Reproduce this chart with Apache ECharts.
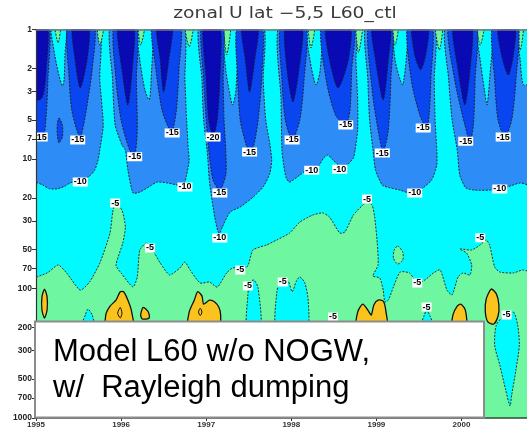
<!DOCTYPE html>
<html>
<head>
<meta charset="utf-8">
<script src="https://cdn.jsdelivr.net/npm/echarts@6/dist/echarts.min.js"></script>
<style>html,body{margin:0;padding:0;background:#fff}#c{width:527px;height:437px}</style>
</head>
<body>
<div id="c"></div>
<script>
// Axes: time in decimal years, pressure in hPa (log, inverted)
const yearTicks = [1995, 1996, 1997, 1998, 1999, 2000];
const pressureTicks = [1, 2, 3, 5, 7, 10, 20, 30, 50, 70, 100, 200, 300, 500, 700, 1000];
const timeRange = [1995, 2000.77];
const pressureRange = [1, 1000];
const timeEnd = 2000.85;

// -5 m/s contour: boundary between the -10..-5 band above and -5..0 below
const minus5Line = [
  [1995.00,81.5],[1995.13,75.9],[1995.26,65.8],[1995.36,75.9],[1995.52,103],[1995.63,89],[1995.75,63.6],
  [1995.87,37.3],[1995.90,26.1],[1995.93,21.9],[1996.01,24.8],[1996.05,33.5],[1996.02,44.5],[1995.94,66],
  [1996.00,76],[1996.14,97.4],[1996.19,81.5],[1996.22,50.4],[1996.30,44.5],[1996.37,50.4],[1996.46,63.6],
  [1996.57,78.6],[1996.69,69.5],[1996.75,62.4],[1996.81,71.9],[1996.93,90.7],[1997.04,89.1],[1997.13,97.4],
  [1997.24,75.9],[1997.31,69.5],[1997.48,68.2],[1997.55,50.4],[1997.71,46.1],[1997.83,42.2],[1997.98,37.3],
  [1998.10,30.7],[1998.25,27.1],[1998.37,26.1],[1998.45,28.1],[1998.57,37.3],[1998.63,36.6],[1998.73,27.1],
  [1998.84,22.7],[1998.89,21.5],[1998.95,22.7],[1998.98,28.1],[1999.01,44.5],[1999.02,65.8],[1998.96,80],
  [1999.04,83],[1999.08,103],[1999.10,127],[1999.14,123],[1999.20,97.4],[1999.28,74.6],[1999.39,76],
  [1999.48,90.7],[1999.57,86],[1999.67,75.9],[1999.75,71.9],[1999.83,103],[1999.89,112],[1999.96,81.5],
  [2000.02,75.9],[2000.10,78.6],[2000.12,65.8],[2000.06,53.2],[1999.98,49.5],[2000.12,50.4],[2000.22,46.1],
  [2000.29,42.2],[2000.33,46.1],[2000.39,68.2],[2000.45,74.6],[2000.61,75.9],[2000.72,71.9],[2000.85,74.6]
];

// -10..-5 pockets inside the -5..0 band
const cyanPatches = [
  [[1997.51,90.7],[1997.56,85.9],[1997.61,99],[1997.64,209],[1997.48,209],[1997.49,112]],
  [[1997.83,209],[1997.83,106],[1997.87,89.1],[1997.91,83],[1997.97,89.1],[1998.01,106],[1998.06,87.5],[1998.10,81.5],[1998.16,90.7],[1998.20,127],[1998.18,209]],
  [[1998.45,209],[1998.49,163],[1998.54,209]],
  [[1999.51,209],[1999.56,163],[1999.59,147],[1999.63,163],[1999.68,209]],
  [[1995.52,209],[1995.58,160],[1995.61,144],[1995.66,160],[1995.69,209]],
  [[2000.61,152],[2000.66,191],[2000.68,273],[2000.64,426],[2000.59,664],[2000.57,808],[2000.52,608],[2000.45,390],[2000.39,273],[2000.41,191],[2000.51,160]]
];

// -5..0 island inside the -10..-5 band
const greenIslands = [
  [[1999.25,47.0],[1999.31,52.3],[1999.31,60.3],[1999.25,64.7],[1999.20,58.2],[1999.21,50.4]]
];

// 0..5 westerly cells
const warmCells = [
  [[1995.10,101],[1995.13,116],[1995.13,147],[1995.10,169],[1995.07,147],[1995.07,116]],
  [[1995.83,209],[1995.82,160],[1995.87,137],[1995.94,123],[1995.99,106],[1996.03,106],[1996.08,123],[1996.12,147],[1996.14,209]],
  [[1996.23,160],[1996.26,140],[1996.32,152],[1996.33,169],[1996.25,172]],
  [[1996.79,209],[1996.80,152],[1996.86,123],[1996.90,106],[1996.95,114],[1996.97,132],[1997.04,123],[1997.10,127],[1997.15,140],[1997.17,160],[1997.15,209]],
  [[1998.77,209],[1998.78,152],[1998.84,132],[1998.90,147],[1998.94,160],[1998.97,134],[1999.02,123],[1999.08,125],[1999.11,147],[1999.12,209]],
  [[1999.89,209],[1999.90,160],[1999.95,137],[1999.99,132],[2000.04,144],[2000.06,169],[2000.06,209]],
  [[2000.35,101],[2000.41,110],[2000.44,134],[2000.43,163],[2000.38,188],[2000.31,181],[2000.28,152],[2000.29,121]]
];
const warmInner = [
  [[1995.99,140],[1996.01,155],[1995.99,169],[1995.96,155]],
  [[1996.93,142],[1996.95,152],[1996.93,162],[1996.91,152]]
];

// -15..-10 regions bounded by the -10 contour
const band10Regions = [
  [[1995.00,1],[1995.73,1],[1995.75,2.45],[1995.79,5.46],[1995.75,8.52],[1995.73,10.2],[1995.69,12.2],[1995.63,13.5],[1995.55,14.5],[1995.40,15.3],[1995.34,16.2],[1995.25,17.0],[1995.16,17.0],[1995.08,15.9],[1995.00,14.0]],
  [[1995.89,1],[1996.72,1],[1996.75,2.45],[1996.77,5.0],[1996.79,8.52],[1996.80,10.2],[1996.77,13.3],[1996.73,16.2],[1996.66,15.9],[1996.54,15.3],[1996.42,15.1],[1996.34,16.2],[1996.22,18.0],[1996.14,18.3],[1996.08,12.2],[1996.05,8.52],[1996.01,7.79],[1995.93,5.46],[1995.90,2.45]],
  [[1996.93,1],[1997.66,1],[1997.67,2.45],[1997.70,5.0],[1997.75,7.79],[1997.77,10.2],[1997.75,12.8],[1997.67,16.4],[1997.55,19.7],[1997.40,23.5],[1997.28,25.7],[1997.19,33.5],[1997.16,37.3],[1997.14,36.6],[1997.10,28.1],[1997.04,15.3],[1997.02,10.2],[1997.01,8.52],[1996.97,5.0],[1996.95,2.45]],
  [[1997.87,1],[1998.75,1],[1998.76,1.72],[1998.78,3.5],[1998.78,5.97],[1998.75,8.52],[1998.73,9.82],[1998.63,11.5],[1998.57,11.3],[1998.49,10.2],[1998.43,9.31],[1998.38,9.82],[1998.31,11.5],[1998.22,11.7],[1998.10,13.3],[1997.98,15.1],[1997.94,14.0],[1997.91,11.1],[1997.89,8.52],[1997.88,3.5]],
  [[1998.89,1],[1999.67,1],[1999.68,2.45],[1999.69,5.0],[1999.71,8.52],[1999.71,11.1],[1999.65,14.5],[1999.51,17.4],[1999.39,18.3],[1999.28,17.4],[1999.16,16.7],[1999.07,15.9],[1998.99,12.2],[1998.96,8.52],[1998.92,5.0],[1998.90,2.45]],
  [[1999.83,1],[2000.85,1],[2000.85,15.9],[2000.69,15.3],[2000.57,16.2],[2000.45,17.0],[2000.33,17.4],[2000.16,17.4],[2000.05,16.7],[1999.98,13.3],[1999.95,8.52],[1999.89,5.0],[1999.85,2.45]]
];

// -10..-5 tongues descending from the top
const cyanTongues = [
  [[1995.18,1],[1995.22,1.57],[1995.27,2.25],[1995.31,2.73],[1995.33,2.45],[1995.34,1.57],[1995.35,1]],
  [[1996.19,1],[1996.22,1.72],[1996.28,2.93],[1996.33,3.5],[1996.35,2.68],[1996.36,1]],
  [[1997.20,1],[1997.23,2.05],[1997.28,3.2],[1997.31,3.83],[1997.35,2.93],[1997.36,1]],
  [[1998.18,1],[1998.22,1.72],[1998.29,2.68],[1998.34,2.05],[1998.35,1]],
  [[1999.20,1],[1999.22,1.72],[1999.28,2.45],[1999.31,2.68],[1999.35,1.72],[1999.36,1]],
  [[2000.18,1],[2000.22,1.72],[2000.27,2.93],[2000.30,3.83],[2000.33,2.45],[2000.36,1]],
  [[2000.66,1],[2000.69,1.72],[2000.73,2.68],[2000.85,2.45],[2000.85,1]]
];

// -5..0 tips at 1 hPa
const greenTips = [
  [[1995.22,1],[1995.26,1.27],[1995.29,1]],
  [[1995.72,1],[1995.75,1.32],[1995.80,1]],
  [[1996.20,1],[1996.23,1.32],[1996.28,1]],
  [[1996.75,1],[1996.80,1.36],[1996.85,1]],
  [[1997.21,1],[1997.24,1.57],[1997.29,1]],
  [[1998.20,1],[1998.23,1.39],[1998.28,1]],
  [[1998.76,1],[1998.79,1.5],[1998.84,1]],
  [[1999.18,1],[1999.22,1.32],[1999.26,1]],
  [[1999.69,1],[1999.74,1.44],[1999.78,1]],
  [[2000.18,1],[2000.22,1.32],[2000.27,1]],
  [[2000.65,1],[2000.69,1.44],[2000.73,1]]
];

// -20..-15 tongues
const band15Tongues = [
  [[1995.00,1],[1995.15,1],[1995.14,2.45],[1995.12,4.57],[1995.08,6.77],[1995.00,6.3]],
  [[1995.27,4.82],[1995.31,5.46],[1995.31,6.77],[1995.27,7.5],[1995.25,6.5],[1995.25,5.4]],
  [[1995.38,1],[1995.68,1],[1995.66,2.05],[1995.61,3.5],[1995.56,5.46],[1995.52,6.77],[1995.48,5.97],[1995.42,4.18],[1995.39,2.45]],
  [[1995.92,1],[1996.18,1],[1996.18,2.45],[1996.19,5.97],[1996.16,9.31],[1996.10,8.52],[1996.00,5.0],[1995.94,2.45]],
  [[1996.37,1],[1996.69,1],[1996.68,2.05],[1996.65,4.18],[1996.60,6.19],[1996.56,5.76],[1996.48,4.18],[1996.41,2.05]],
  [[1996.95,1],[1997.19,1],[1997.20,2.45],[1997.21,5.0],[1997.23,8.52],[1997.23,13.3],[1997.16,17.4],[1997.08,14.5],[1997.03,8.52],[1997.00,5.0],[1996.97,2.45]],
  [[1997.37,1],[1997.65,1],[1997.65,2.45],[1997.61,5.0],[1997.56,7.79],[1997.51,8.84],[1997.47,7.79],[1997.40,5.0],[1997.37,2.45]],
  [[1997.88,1],[1998.17,1],[1998.15,2.45],[1998.10,5.0],[1998.01,7.13],[1997.93,5.0],[1997.89,2.45]],
  [[1998.36,1],[1998.73,1],[1998.71,2.05],[1998.69,4.18],[1998.64,5.46],[1998.52,4.57],[1998.41,2.45]],
  [[1998.91,1],[1999.18,1],[1999.17,2.45],[1999.14,5.97],[1999.08,8.84],[1999.02,5.97],[1998.95,2.93]],
  [[1999.37,1],[1999.65,1],[1999.64,2.45],[1999.62,4.57],[1999.59,5.76],[1999.51,4.57],[1999.41,2.45]],
  [[1999.85,1],[2000.17,1],[2000.16,2.45],[2000.14,5.46],[2000.10,7.4],[2000.04,5.46],[1999.92,2.45]],
  [[2000.37,1],[2000.66,1],[2000.64,2.45],[2000.59,5.0],[2000.51,6.77],[2000.43,5.0],[2000.39,2.45]]
];

// below -20 cores
const band20Cores = [
  [[1995.00,1],[1995.13,1],[1995.12,2.05],[1995.07,3.38],[1995.00,3.5]],
  [[1995.43,1],[1995.62,1],[1995.60,1.72],[1995.52,2.83],[1995.46,1.72]],
  [[1995.96,1],[1996.15,1],[1996.13,2.05],[1996.08,3.83],[1996.01,2.05]],
  [[1996.42,1],[1996.60,1],[1996.56,1.72],[1996.50,3.04],[1996.46,1.72]],
  [[1996.97,1],[1997.16,1],[1997.16,2.45],[1997.13,5.0],[1997.08,6.77],[1997.03,5.0],[1997.00,2.45]],
  [[1997.42,1],[1997.61,1],[1997.57,1.72],[1997.51,3.04],[1997.46,1.72]],
  [[1997.93,1],[1998.13,1],[1998.09,2.05],[1998.02,3.63],[1997.95,2.05]],
  [[1998.41,1],[1998.69,1],[1998.67,1.72],[1998.55,2.83],[1998.45,1.72]],
  [[1998.95,1],[1999.16,1],[1999.14,1.72],[1999.08,3.5],[1998.99,1.72]],
  [[1999.42,1],[1999.61,1],[1999.58,1.57],[1999.52,2.05],[1999.45,1.57]],
  [[1999.90,1],[2000.12,1],[2000.10,2.05],[2000.04,3.83],[1999.96,2.05]],
  [[2000.43,1],[2000.63,1],[2000.61,1.57],[2000.55,2.25],[2000.47,1.57]]
];

// contour labels: [year, hPa, text]
const contourLabels = [
  [1995.05,6.77,'-15'],[1995.49,7.13,'-15'],[1996.60,6.3,'-15'],[1997.08,6.77,'-20'],[1997.51,8.84,'-15'],
  [1998.01,7.13,'-15'],[1998.64,5.46,'-15'],[1999.55,5.76,'-15'],[2000.05,7.3,'-15'],[2000.49,6.77,'-15'],
  [1996.16,9.6,'-15'],[1999.07,9.0,'-15'],[1997.16,18.3,'-15'],
  [1995.52,15.05,'-10'],[1996.75,16.45,'-10'],[1998.24,12.2,'-10'],[1998.57,12.0,'-10'],[1999.45,18.3,'-10'],
  [2000.45,17.05,'-10'],[1997.16,40.7,'-10'],
  [1995.93,21.9,'-5'],[1996.34,48.6,'-5'],[1997.40,71.9,'-5'],[1997.49,95.6,'-5'],[1997.90,89.1,'-5'],
  [1998.89,20.4,'-5'],[2000.22,40.6,'-5'],[1999.48,90.7,'-5'],[1998.49,166,'-5'],[1999.59,139,'-5'],[2000.53,160,'-5']
];

const colors = {
  navy: '#0a0ab4', blue: '#0a46f0', dodger: '#2d8cf5',
  cyan: '#00faff', green: '#6ef7a0', orange: '#fac31e'
};

const cyanRegion = [[timeRange[0], pressureRange[0]], [timeEnd, pressureRange[0]]].concat(minus5Line.slice().reverse());

function toPixel(api, pt) {
  const c = api.coord(pt);
  // push edge vertices past the frame so clipping gives clean borders
  if (pt[1] <= pressureRange[0]) c[1] -= 6;
  if (pt[0] <= timeRange[0]) c[0] -= 6;
  return c;
}

function polygonLayer(polys, fill, opt) {
  opt = opt || {};
  return {
    type: 'custom',
    coordinateSystem: 'cartesian2d',
    clip: true,
    silent: true,
    z: opt.z || 2,
    data: polys.map((poly, i) => [poly[0][0], poly[0][1], i]),
    renderItem: (params, api) => {
      const poly = polys[params.dataIndex];
      return {
        type: 'polygon',
        shape: { points: poly.map(pt => toPixel(api, pt)), smooth: opt.smooth == null ? 0.25 : opt.smooth },
        style: {
          fill: fill,
          stroke: opt.stroke || '#1c1c1c',
          lineWidth: opt.lineWidth == null ? 0.9 : opt.lineWidth,
          lineDash: opt.dash === undefined ? [2, 1.4] : opt.dash
        }
      };
    }
  };
}

const labelLayer = {
  type: 'custom',
  coordinateSystem: 'cartesian2d',
  clip: true,
  silent: true,
  z: 12,
  data: contourLabels.map(d => [d[0], d[1]]),
  renderItem: (params, api) => {
    const c = api.coord([api.value(0), api.value(1)]);
    return {
      type: 'text',
      x: c[0], y: c[1],
      style: {
        text: contourLabels[params.dataIndex][2],
        fill: '#000',
        font: 'bold 9px "Liberation Sans", Arial, sans-serif',
        align: 'center', verticalAlign: 'middle',
        textAlign: 'center', textVerticalAlign: 'middle',
        backgroundColor: '#fff',
        padding: [0, 1]
      }
    };
  }
};

const chart = echarts.init(document.getElementById('c'));
chart.setOption({
  animation: false,
  backgroundColor: '#fff',
  grid: { left: 36, right: 0, top: 29.5, bottom: 19 },
  xAxis: [{
    type: 'value', min: timeRange[0], max: timeRange[1], interval: 1, z: 20,
    axisLine: { show: true, onZero: false, lineStyle: { color: '#2f4a35', width: 1.5 } },
    axisTick: { show: true, length: 3, customValues: yearTicks, lineStyle: { color: '#333' } },
    axisLabel: { customValues: yearTicks, fontSize: 8, fontWeight: 'bold', color: '#333', margin: 3,
      fontFamily: 'Liberation Sans', formatter: v => String(Math.round(v)) },
    splitLine: { show: false }
  }, {
    type: 'value', position: 'top', min: timeRange[0], max: timeRange[1], z: 20,
    axisLine: { show: true, onZero: false, lineStyle: { color: '#777', width: 1.5 } },
    axisTick: { show: false }, axisLabel: { show: false }, splitLine: { show: false }
  }],
  yAxis: [{
    type: 'log', logBase: 10, inverse: true, min: pressureRange[0], max: pressureRange[1], z: 20,
    axisLine: { show: true, onZero: false, lineStyle: { color: '#333', width: 1.2 } },
    axisTick: { show: true, length: 4, customValues: pressureTicks, lineStyle: { color: '#333' } },
    axisLabel: { customValues: pressureTicks, fontSize: 8.5, fontWeight: 'bold', color: '#222', margin: 4,
      fontFamily: 'Liberation Sans', formatter: v => String(Math.round(v)) },
    splitLine: { show: false }, minorTick: { show: false }
  }],
  series: [
    polygonLayer([[[timeRange[0], pressureRange[0]], [timeEnd, pressureRange[0]], [timeEnd, pressureRange[1]], [timeRange[0], pressureRange[1]]]], colors.green, { z: 1, dash: null, lineWidth: 0, smooth: 0 }),
    polygonLayer([cyanRegion], colors.cyan, { z: 2, smooth: 0.2 }),
    polygonLayer(greenIslands, colors.green, { z: 3 }),
    polygonLayer(cyanPatches, colors.cyan, { z: 3 }),
    polygonLayer(warmCells, colors.orange, { z: 3, dash: null, lineWidth: 1.3, stroke: '#111' }),
    polygonLayer(warmInner, 'none', { z: 4, dash: null, lineWidth: 1, stroke: '#111' }),
    polygonLayer(band10Regions, colors.dodger, { z: 5, smooth: 0.2 }),
    polygonLayer(cyanTongues, colors.cyan, { z: 6 }),
    polygonLayer(greenTips, colors.green, { z: 7 }),
    polygonLayer(band15Tongues, colors.blue, { z: 8 }),
    polygonLayer(band20Cores, colors.navy, { z: 9 }),
    labelLayer
  ],
  graphic: [
    { type: 'text', x: 285, y: 14, scaleX: 1.25, z: 100,
      style: { text: 'zonal U lat \u22125,5 L60_ctl', fontSize: 15, fontFamily: 'DejaVu Sans', fill: '#3a3a3a', textAlign: 'center', textVerticalAlign: 'middle' } },
    { type: 'rect', z: 100, shape: { x: 35, y: 321.5, width: 449, height: 96 },
      style: { fill: '#fff', stroke: '#8c8c8c', lineWidth: 2 } },
    { type: 'text', x: 53, y: 352, z: 101,
      style: { text: 'Model L60 w/o NOGW,', fontSize: 31, fontFamily: 'Liberation Sans', fill: '#000', textVerticalAlign: 'middle' } },
    { type: 'text', x: 53, y: 388, z: 101,
      style: { text: 'w/  Rayleigh dumping', fontSize: 31, fontFamily: 'Liberation Sans', fill: '#000', textVerticalAlign: 'middle' } }
  ]
});
</script>
</body>
</html>
